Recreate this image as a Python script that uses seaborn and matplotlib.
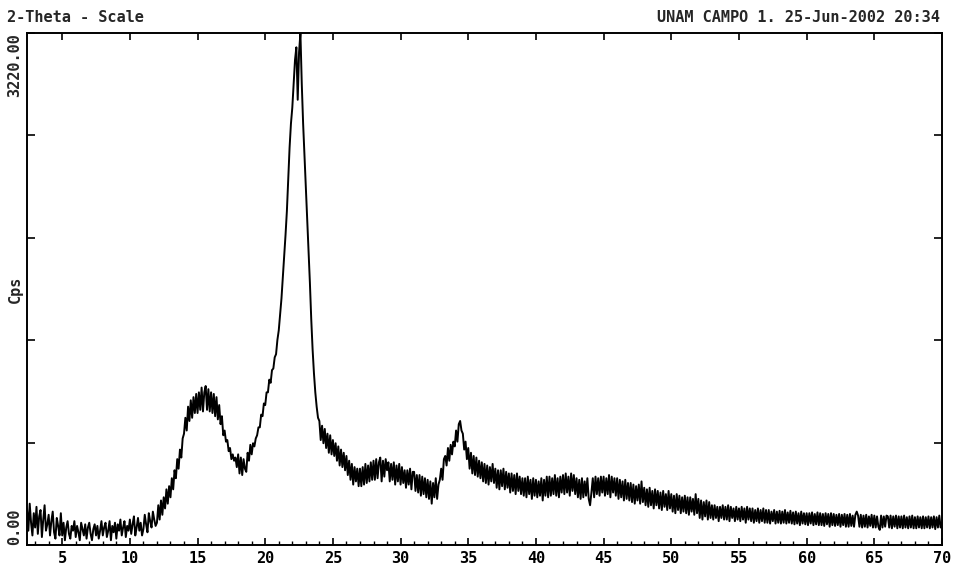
import numpy as np
import pandas as pd
import matplotlib.pyplot as plt
import seaborn as sns

sns.set_theme(style="white")
plt.rcParams['font.family'] = ['DejaVu Sans Mono', 'DejaVu Sans']
plt.rcParams['font.weight'] = 'bold'

# scan settings (2-theta, degrees)
start_angle = 2.4
step = 0.1

# counts per second, one row per degree
cps = [
    230, 90, 260, 140, 60, 200,                                  # 2.4-2.9
    110, 240, 70, 180, 220, 50, 160, 250, 90, 130,               # 3
    190, 60, 150, 210, 80, 40, 170, 120, 60, 200,                # 4
    60, 140, 30, 110, 150, 70, 40, 120, 90, 150,                 # 5
    50, 120, 80, 30, 140, 100, 60, 130, 40, 110,                 # 6
    140, 70, 30, 100, 130, 60, 120, 40, 90, 150,                 # 7
    60, 110, 140, 50, 90, 150, 30, 120, 80, 140,                 # 8
    40, 130, 90, 160, 60, 110, 150, 50, 120, 90,                 # 9
    160, 70, 130, 180, 60, 110, 170, 90, 140, 60,                # 10
    100, 190, 130, 80, 200, 150, 110, 210, 160, 120,             # 11
    140, 250, 160, 280, 190, 300, 230, 350, 260, 370,            # 12
    300, 420, 350, 470, 420, 540, 480, 600, 550, 670,            # 13
    700, 800, 720, 870, 780, 910, 800, 930, 830, 950,            # 14
    830, 960, 850, 990, 840, 960, 1000, 850, 980, 840,           # 15
    960, 830, 950, 810, 930, 790, 880, 760, 810, 690,            # 16
    720, 650, 660, 590, 610, 540, 570, 530, 550, 490,            # 17
    570, 450, 550, 440, 540, 480, 460, 580, 530, 630,            # 18
    570, 640, 620, 670, 690, 740, 740, 820, 810, 890,            # 19
    880, 960, 960, 1040, 1020, 1100, 1110, 1180, 1200, 1290,     # 20
    1350, 1450, 1550, 1680, 1800, 1950, 2100, 2300, 2500, 2650,  # 21
    2750, 2900, 3050, 3130, 2800, 3100, 3220, 2900, 2650, 2450,  # 22
    2250, 2050, 1850, 1650, 1420, 1230, 1080, 960, 870, 800,     # 23
    780, 660, 750, 640, 730, 610, 700, 580, 690, 570,            # 24
    660, 560, 640, 530, 620, 500, 600, 490, 580, 470,            # 25
    560, 440, 530, 410, 510, 380, 490, 400, 480, 370,            # 26
    480, 370, 490, 380, 510, 390, 500, 400, 520, 410,            # 27
    530, 410, 540, 420, 520, 550, 400, 530, 430, 540,            # 28
    470, 520, 400, 510, 410, 520, 380, 500, 400, 510,            # 29
    380, 490, 390, 470, 360, 470, 380, 480, 350, 460,            # 30
    460, 340, 440, 330, 440, 310, 430, 320, 420, 300,            # 31
    410, 290, 400, 260, 390, 300, 420, 290, 380, 410,            # 32
    480, 410, 540, 560, 500, 610, 530, 630, 570, 650,            # 33
    620, 720, 650, 760, 780, 720, 700, 600, 650, 540,            # 34
    610, 480, 580, 450, 560, 440, 550, 430, 530, 420,            # 35
    520, 400, 510, 390, 500, 380, 490, 400, 510, 390,            # 36
    480, 360, 470, 350, 470, 370, 480, 350, 460, 360,            # 37
    450, 330, 450, 340, 440, 320, 450, 340, 430, 320,            # 38
    420, 310, 420, 300, 430, 320, 410, 290, 420, 310,            # 39
    410, 300, 400, 310, 420, 280, 410, 310, 430, 300,            # 40
    430, 310, 420, 320, 440, 310, 420, 300, 430, 330,            # 41
    440, 320, 450, 330, 430, 310, 450, 340, 440, 320,            # 42
    420, 300, 410, 290, 420, 300, 400, 310, 420, 290,            # 43
    250, 330, 420, 300, 430, 320, 420, 310, 430, 330,            # 44
    430, 310, 420, 320, 440, 300, 430, 330, 420, 310,            # 45
    420, 290, 410, 300, 400, 280, 410, 290, 390, 280,            # 46
    390, 270, 380, 260, 370, 280, 380, 260, 400, 270,            # 47
    360, 250, 350, 240, 360, 250, 340, 230, 350, 250,            # 48
    340, 230, 330, 220, 340, 240, 320, 220, 340, 230,            # 49
    320, 210, 310, 200, 320, 220, 310, 200, 300, 210,            # 50
    310, 200, 300, 190, 300, 210, 290, 190, 320, 200,            # 51
    290, 170, 280, 160, 270, 180, 280, 160, 270, 170,            # 52
    250, 160, 250, 170, 240, 150, 240, 170, 250, 160,            # 53
    240, 160, 250, 150, 240, 170, 230, 150, 240, 160,            # 54
    230, 150, 240, 160, 230, 140, 240, 160, 230, 150,            # 55
    230, 140, 220, 150, 230, 140, 220, 150, 230, 140,            # 56
    220, 140, 220, 135, 210, 150, 220, 135, 210, 140,            # 57
    215, 135, 210, 140, 220, 135, 205, 140, 215, 135,            # 58
    205, 130, 210, 135, 200, 125, 210, 135, 200, 130,            # 59
    200, 125, 200, 135, 205, 125, 195, 130, 205, 125,            # 60
    200, 125, 195, 120, 200, 130, 195, 115, 200, 125,            # 61
    195, 120, 190, 125, 195, 115, 190, 125, 195, 115,            # 62
    190, 115, 195, 120, 185, 115, 190, 210, 185, 115,            # 63
    190, 110, 185, 115, 190, 110, 180, 120, 190, 110,            # 64
    185, 110, 180, 115, 95, 185, 110, 180, 115, 185,             # 65
    180, 110, 185, 105, 180, 115, 185, 105, 180, 110,            # 66
    180, 105, 185, 110, 175, 105, 180, 110, 185, 105,            # 67
    175, 105, 180, 110, 175, 105, 180, 105, 175, 110,            # 68
    180, 105, 175, 110, 180, 100, 175, 110, 185, 110,            # 69
    140,                                                         # 70
]

x_ticks = [5, 10, 15, 20, 25, 30, 35, 40, 45, 50, 55, 60, 65, 70]
x_minor = list(range(3, 71))
y_max = 3220.0
y_ticks = [0, 644, 1288, 1932, 2576, 3220]
title_left = "2-Theta - Scale"
title_right = "UNAM CAMPO 1. 25-Jun-2002 20:34"

df = pd.DataFrame({'two_theta': start_angle + step * np.arange(len(cps)), 'cps': cps})

fig = plt.figure(figsize=(9.55, 5.7), dpi=100)
ax = fig.add_axes([27 / 955, 25 / 570, 915 / 955, 512 / 570])
sns.lineplot(data=df, x='two_theta', y='cps', ax=ax, color='black', lw=1.4, estimator=None)

ax.set_xlim(start_angle, 70)
ax.set_ylim(0, y_max)
ax.set_xticks(x_ticks)
ax.set_xticks(x_minor, minor=True)
ax.set_yticks(y_ticks)
ax.set_yticklabels([])
ax.tick_params(axis='x', which='major', direction='in', length=5, width=1.2,
               bottom=True, top=True, labelsize=11, pad=4, colors='black')
ax.tick_params(axis='x', which='minor', direction='in', length=3, width=1,
               bottom=True, top=False, colors='black')
ax.tick_params(axis='y', direction='in', length=6, width=1.2, left=True, right=True, colors='black')
ax.set_xlabel('')
ax.set_ylabel('')
for s in ax.spines.values():
    s.set_color('black')
    s.set_linewidth(1.4)

# y labels drawn like the plotter output
ax.text(-0.013, 1.0, '3220.00', rotation=90, ha='center', va='top', fontsize=11, transform=ax.transAxes)
ax.text(-0.013, 0.0, '0.00', rotation=90, ha='center', va='bottom', fontsize=11, transform=ax.transAxes)
ax.text(-0.013, 0.5, 'Cps', rotation=90, ha='center', va='center', fontsize=11, transform=ax.transAxes)

fig.text(7 / 955, 1 - 17 / 570, title_left, ha='left', va='center', fontsize=11)
fig.text(940 / 955, 1 - 17 / 570, title_right, ha='right', va='center', fontsize=11)

fig.savefig('out.png', dpi=100)
